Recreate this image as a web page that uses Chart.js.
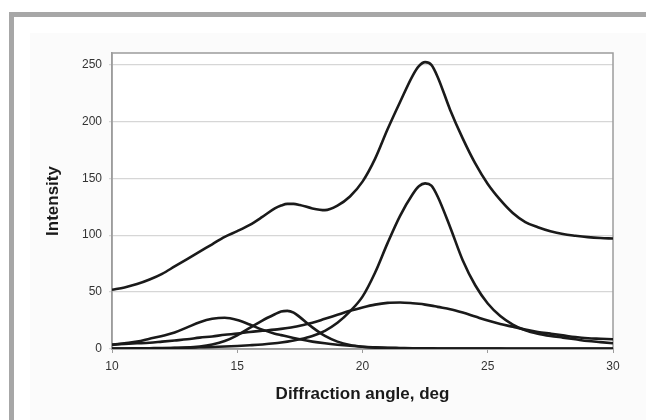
<!DOCTYPE html>
<html>
<head>
<meta charset="utf-8">
<script src="https://cdn.jsdelivr.net/npm/chart.js@4/dist/chart.umd.min.js"></script>
<style>
  html, body { margin: 0; padding: 0; background: #fff; width: 646px; height: 420px; overflow: hidden; }
  .frame { position: absolute; left: 9px; top: 12px; width: 700px; height: 500px; border-top: 5px solid #a7a7a7; border-left: 5px solid #a7a7a7; }
  .panel { position: absolute; left: 30px; top: 33px; width: 620px; height: 400px; background: #fbfbfb; }
  canvas { position: absolute; left: 0; top: 0; }
</style>
</head>
<body>
<div class="frame"></div>
<div class="panel"></div>
<canvas id="chart" width="646" height="420"></canvas>
<script>
// diffraction angle (deg) sample positions
const angles = [10, 10.5, 11, 11.5, 12, 12.5, 13, 13.5, 14, 14.5, 15, 15.5, 16, 16.5, 16.75, 17, 17.25, 17.5, 18, 18.5, 19, 19.5,
  20, 20.5, 21, 21.5, 22, 22.25, 22.5, 22.75, 23, 23.5, 24, 24.5, 25, 25.5, 26, 26.5, 27, 27.5, 28, 28.5, 29, 29.5, 30];

// measured profile
const total = [52, 54, 57, 61, 66, 72.5, 79, 85.5, 92, 98.5, 103.5, 109, 116, 123.5, 126, 127.5, 127.5, 126.5, 123.5, 122, 126, 134,
  147, 167, 193, 217, 240, 248.5, 252, 249.5, 239, 210, 185, 163, 145, 131, 119.5, 111.5, 107, 103.5, 101, 99.5, 98.3, 97.5, 97];

// fitted components
const peak22 = [0.5, 0.5, 0.6, 0.7, 0.8, 1, 1.2, 1.5, 1.8, 2.2, 2.7, 3.3, 4, 5, 5.7, 6.5, 7.4, 8.5, 11.5, 16, 23, 33,
  46, 67, 93, 117, 136, 143, 145.5, 143.5, 134, 107, 78, 56, 40, 29, 21.5, 16.5, 13.5, 11.5, 10, 8.5, 7, 6, 5];
const broad = [4, 4.5, 5, 5.5, 6.5, 7.5, 8.5, 10, 11, 12.5, 13.5, 15, 16, 17, 17.7, 18.5, 19.4, 20.5, 23, 26.5, 30, 33.5,
  36.5, 39, 40.5, 40.8, 40.2, 39.7, 39, 38.1, 37, 35, 32, 28.5, 25, 22, 19.5, 17, 15, 13.5, 12, 10.5, 9.5, 9, 8.5];
const peak14 = [3.5, 5, 6.5, 9, 11.5, 14.5, 19, 23.5, 26.5, 27.5, 25.5, 21.5, 17, 13.5, 12.2, 11, 9.7, 8.5, 6.5, 5, 3.8, 2.8,
  2, 1.5, 1.1, 0.9, 0.7, 0.65, 0.6, 0.55, 0.5, 0.5, 0.4, 0.4, 0.4, 0.4, 0.3, 0.3, 0.3, 0.3, 0.3, 0.3, 0.3, 0.3, 0.3];
const peak17 = [0.3, 0.3, 0.4, 0.5, 0.6, 0.8, 1.2, 2.2, 4, 7, 12, 18.5, 25, 30.5, 33, 33.5, 32, 28, 19, 11.5, 6.5, 3.5,
  2, 1.2, 0.8, 0.6, 0.5, 0.45, 0.4, 0.4, 0.4, 0.3, 0.3, 0.3, 0.3, 0.3, 0.2, 0.2, 0.2, 0.2, 0.2, 0.2, 0.2, 0.2, 0.2];

const xTicks = [10, 15, 20, 25, 30];
const yTicks = [0, 50, 100, 150, 200, 250];

const font = 'Liberation Sans, Arial, sans-serif';

function series(values) {
  return {
    data: values.map((v, i) => ({ x: angles[i], y: v })),
    borderColor: '#1a1a1a',
    borderWidth: 2.6,
    pointRadius: 0,
    fill: false,
    cubicInterpolationMode: 'monotone'
  };
}

const plotArea = {
  id: 'plotArea',
  beforeDraw(chart) {
    const { ctx, chartArea: a } = chart;
    ctx.save();
    ctx.fillStyle = '#ffffff';
    ctx.fillRect(a.left, a.top, a.right - a.left, a.bottom - a.top);
    ctx.restore();
  },
  beforeDatasetsDraw(chart) {
    const { ctx, chartArea: a } = chart;
    ctx.save();
    ctx.strokeStyle = '#9c9c9c';
    ctx.lineWidth = 1.5;
    ctx.strokeRect(a.left, a.top, a.right - a.left, a.bottom - a.top);
    ctx.restore();
  }
};

new Chart(document.getElementById('chart'), {
  type: 'line',
  data: {
    datasets: [series(total), series(peak22), series(broad), series(peak14), series(peak17)]
  },
  options: {
    responsive: false,
    animation: false,
    layout: { padding: { top: 53, right: 33, left: 0, bottom: 0 } },
    plugins: { legend: { display: false }, tooltip: { enabled: false } },
    scales: {
      x: {
        type: 'linear',
        min: xTicks[0],
        max: xTicks[xTicks.length - 1],
        afterBuildTicks(scale) { scale.ticks = xTicks.map(v => ({ value: v })); },
        afterFit(scale) { scale.height = 71; },
        ticks: { color: '#333', font: { family: font, size: 12 }, padding: 6, maxRotation: 0 },
        grid: { drawOnChartArea: false, color: '#9c9c9c', tickLength: 4 },
        border: { color: '#9c9c9c', width: 1.5 },
        title: {
          display: true,
          text: 'Diffraction angle, deg',
          color: '#1a1a1a',
          font: { family: font, size: 17, weight: 'bold' },
          padding: { top: 0, bottom: 15 }
        }
      },
      y: {
        min: 0,
        max: 260,
        afterBuildTicks(scale) { scale.ticks = yTicks.map(v => ({ value: v })); },
        afterFit(scale) { scale.width = 112; },
        ticks: { color: '#333', font: { family: font, size: 12 }, padding: 7 },
        grid: { color: '#d6d6d6', tickLength: 3, lineWidth: 1.2 },
        border: { color: '#9c9c9c', width: 1.5 },
        title: {
          display: true,
          text: 'Intensity',
          color: '#1a1a1a',
          font: { family: font, size: 17, weight: 'bold' },
          padding: { top: 43, bottom: 0 }
        }
      }
    }
  },
  plugins: [plotArea]
});
</script>
</body>
</html>
